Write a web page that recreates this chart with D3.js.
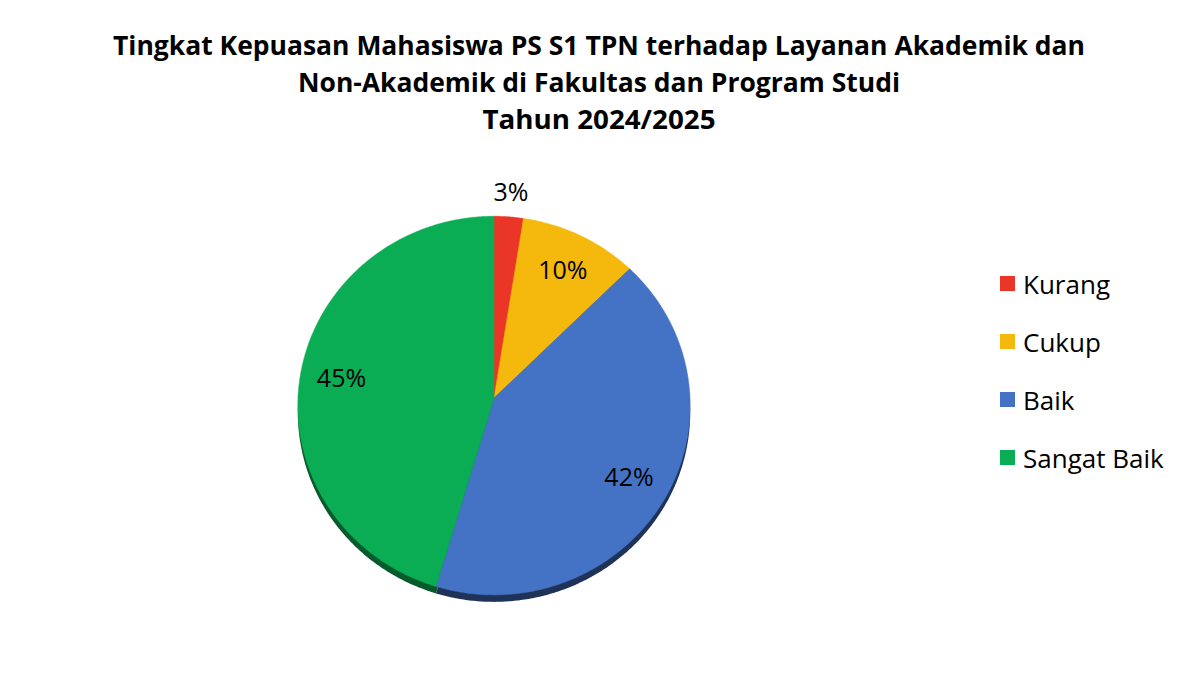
<!DOCTYPE html>
<html>
<head>
<meta charset="utf-8">
<script src="https://cdn.jsdelivr.net/npm/d3@7"></script>
<style>
  body { margin: 0; background: #fff; }
  svg { display: block; font-family: "Open Sans", "Noto Sans", sans-serif; }
</style>
</head>
<body>
<div class="vizcontainer"></div>
<script>
const categories = ["Kurang", "Cukup", "Baik", "Sangat Baik"];
// shares (labels round them to 3 / 10 / 42 / 45 %)
const values = [2.5, 10.1, 42.0, 45.4];
const colors = ["#EA3626", "#F4B90C", "#4472C4", "#0BAD54"];
const sideColors = ["#8e1f15", "#9a7306", "#1f3358", "#065a2c"];
const titleLines = [
  "Tingkat Kepuasan Mahasiswa PS S1 TPN terhadap Layanan Akademik dan",
  "Non-Akademik di Fakultas dan Program Studi",
  "Tahun 2024/2025"
];
const titleWidths = [972, 602, 233];

const width = 1200, height = 675;
const center = { x: 494, y: 398 };
const rx = 196, ry = 189;
const persp = 0.04;   // slight perspective: far edge smaller than near edge
const depth = 7;

const svg = d3.select(".vizcontainer")
  .append("svg")
  .attr("width", width)
  .attr("height", height);

// title
svg.append("g")
  .selectAll("text")
  .data(titleLines)
  .enter()
  .append("text")
  .attr("x", 599)
  .attr("y", (d, i) => 55 + 37 * i)
  .attr("text-anchor", "middle")
  .attr("font-size", 27)
  .attr("font-weight", "bold")
  .attr("fill", "#000")
  .attr("textLength", (d, i) => titleWidths[i])
  .attr("lengthAdjust", "spacingAndGlyphs")
  .text(d => d);

const total = d3.sum(values);
const pie = d3.pie().sort(null).value(d => d)(values);

// project a point on the flat pie (angle from 12 o'clock, radius in 0..1)
function project(angle, r, dy) {
  const u = Math.sin(angle) * r;
  const v = -Math.cos(angle) * r;
  const w = 1 / (1 - persp * v);
  return [center.x + rx * u * w, center.y + ry * v * w + (dy || 0)];
}

function slicePoints(d, dy) {
  const n = Math.max(4, Math.ceil((d.endAngle - d.startAngle) / 0.01));
  const pts = [project(0, 0, dy)];
  d3.range(n + 1).forEach(k => {
    const a = d.startAngle + (d.endAngle - d.startAngle) * k / n;
    pts.push(project(a, 1, dy));
  });
  return pts;
}

const line = d3.line().curve(d3.curveLinearClosed);

// side (thickness) drawn first, shifted down
svg.append("g")
  .selectAll("path")
  .data(pie)
  .enter()
  .append("path")
  .attr("d", d => line(slicePoints(d, depth)))
  .attr("fill", (d, i) => sideColors[i]);

svg.append("g")
  .selectAll("path")
  .data(pie)
  .enter()
  .append("path")
  .attr("d", d => line(slicePoints(d, 0)))
  .attr("fill", (d, i) => colors[i])
  .attr("stroke", (d, i) => colors[i])
  .attr("stroke-width", 0.5);

// data labels
svg.append("g")
  .selectAll("text")
  .data(pie)
  .enter()
  .append("text")
  .attr("transform", d => {
    const mid = (d.startAngle + d.endAngle) / 2;
    const p = project(mid, d.value / total < 0.05 ? 1.15 : 0.79, 0);
    return `translate(${p[0]},${p[1]})`;
  })
  .attr("text-anchor", "middle")
  .attr("dominant-baseline", "central")
  .attr("font-size", 25)
  .attr("fill", "#000")
  .text(d => Math.round(d.value / total * 100) + "%");

// legend
const legend = svg.append("g").attr("id", "legend");
legend.selectAll("rect")
  .data(categories)
  .enter()
  .append("rect")
  .attr("x", 1000)
  .attr("y", (d, i) => 276 + 58 * i)
  .attr("width", 15)
  .attr("height", 15)
  .attr("fill", (d, i) => colors[i]);
legend.selectAll("text")
  .data(categories)
  .enter()
  .append("text")
  .attr("x", 1023)
  .attr("y", (d, i) => 284 + 58 * i)
  .attr("dominant-baseline", "central")
  .attr("font-size", 26)
  .attr("fill", "#000")
  .text(d => d);
</script>
</body>
</html>
